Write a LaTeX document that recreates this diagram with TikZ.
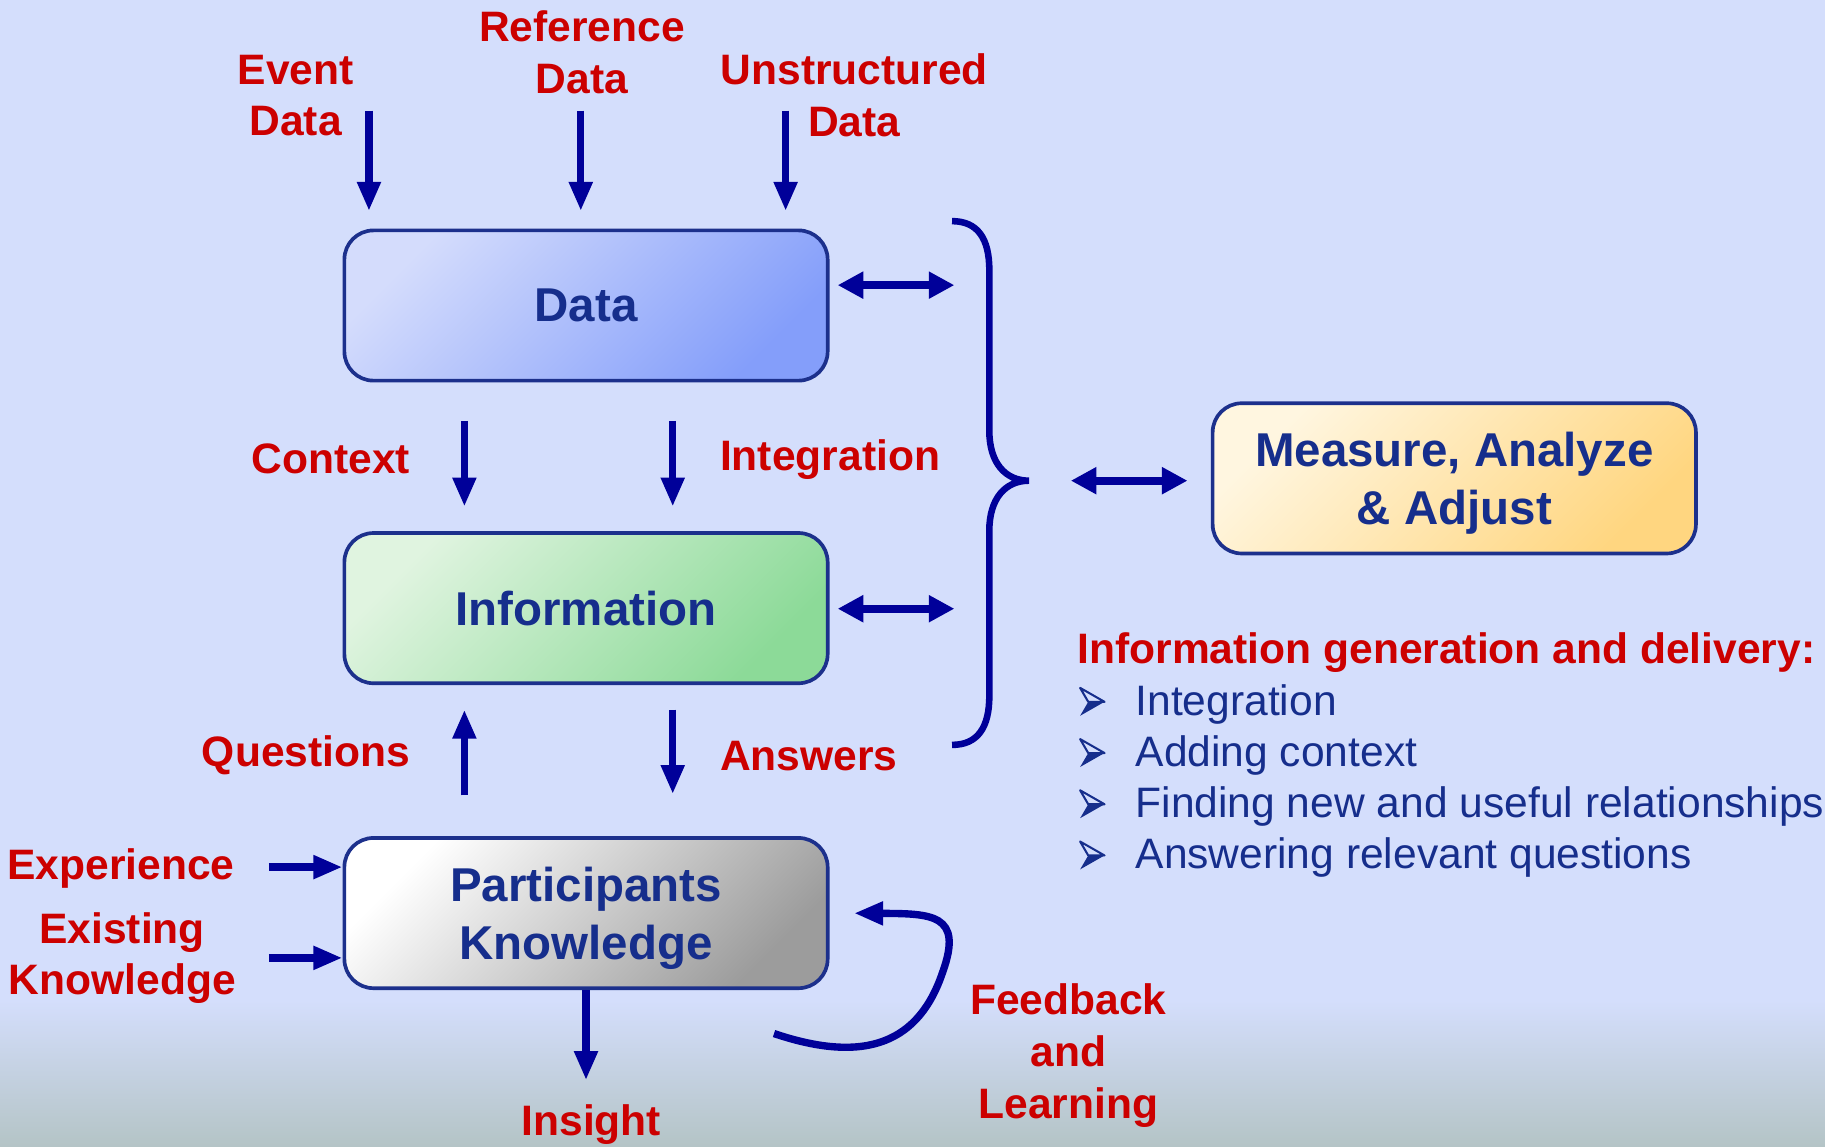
\documentclass[tikz,border=0pt]{standalone}
\usepackage{fontspec}
\setmainfont{Liberation Sans}
\usepackage{tikz}
\usetikzlibrary{arrows.meta}
\usetikzlibrary{positioning}
\usetikzlibrary{calc}
\definecolor{bgtop}{RGB}{212,222,252}
\definecolor{bgbot}{RGB}{180,196,198}
\definecolor{arrowblue}{RGB}{0,0,153}
\definecolor{labelred}{RGB}{204,0,0}
\definecolor{textblue}{RGB}{22,46,140}
\definecolor{boxline}{RGB}{28,48,140}
\definecolor{datatop}{RGB}{212,220,252}
\definecolor{databot}{RGB}{132,158,250}
\definecolor{infotop}{RGB}{224,244,224}
\definecolor{infobot}{RGB}{140,218,152}
\definecolor{knowtop}{RGB}{255,255,255}
\definecolor{knowbot}{RGB}{156,156,156}
\definecolor{meastop}{RGB}{255,246,224}
\definecolor{measbot}{RGB}{255,214,128}
\tikzset{basic box/.style={draw=boxline,
                           line width=0.9pt,
                           rounded corners=0.25cm,
                           minimum width=4.15cm,
                           minimum height=1.29cm,
                           align=center,
                           text depth=0pt,
                           text=textblue,
                           font=\bfseries\fontsize{11.6}{14.2}\selectfont}}
\tikzset{red label/.style={text=labelred,
                           inner sep=0pt,
                           align=center,
                           font=\bfseries\fontsize{10.4}{12.6}\selectfont}}
\tikzset{flow/.style={draw=arrowblue,
                      line width=1.8pt,
                      -{Triangle[length=0.25cm,width=0.19cm]}}}
\tikzset{two way/.style={draw=arrowblue,
                         line width=2pt,
                         {Triangle[length=0.22cm,width=0.22cm]}-{Triangle[length=0.22cm,width=0.22cm]}}}

\begin{document}
\begin{tikzpicture}
  [
    x=0.01cm,y=-0.01cm,
    data fill/.style={top color=datatop,bottom color=databot,shading angle=45},
    info fill/.style={top color=infotop,bottom color=infobot,shading angle=45},
    know fill/.style={top color=knowtop,bottom color=knowbot,shading angle=45},
    measure fill/.style={top color=meastop,bottom color=measbot,shading angle=45},
    list item/.style={text=textblue,inner sep=0pt,font=\fontsize{10.4}{12.6}\selectfont},
  ]
    \useasboundingbox (0,0) rectangle (1568,985);

    % background
    \fill [bgtop] (0,0) rectangle (1568,860);
    \shade [top color=bgtop,bottom color=bgbot] (0,859) rectangle (1568,985);

    % boxes
    \node [basic box,data fill] (data) at (503.5,262.5) {Data};
    \node [basic box,info fill] (info) at (503.5,522.5) {Information};
    \node [basic box,know fill] (pk) at (503.5,784.5) {Participants\\Knowledge};
    \node [basic box,measure fill] (ma) at (1249.5,411) {Measure, Analyze\\\& Adjust};

    % labels
    \node [red label] (evt) at (254,82) {Event\\Data};
    \node [red label] (ref) at (500,45) {Reference\\Data};
    \node [red label] (uns) at (734,82) {Unstructured\\Data};
    \node [red label,anchor=east] (ctx) at (353,394) {Context};
    \node [red label,anchor=west] (int) at (618,395) {Integration};
    \node [red label,anchor=east] (qst) at (353,649) {Questions};
    \node [red label,anchor=west] (ans) at (618,650) {Answers};
    \node [red label] (exp) at (104,746) {Experience};
    \node [red label] (exk) at (105,823) {Existing\\Knowledge};
    \node [red label] (ins) at (508,966) {Insight};
    \node [red label] (fbl) at (918,907) {Feedback\\and\\Learning};

    % list
    \node [red label,anchor=west] (head) at (925,561) {Information generation and delivery:};
    \foreach \i/\l in
      {
        1/Integration,
        2/Adding context,
        3/Finding new and useful relationships,
        4/Answering relevant questions
      }
    {
    \coordinate (b\i) at (938,559+44*\i);
    \draw [textblue,line width=0.5pt,line join=round]
      ($(b\i)+(-10,-12)$) -- ($(b\i)+(11,0)$) -- ($(b\i)+(-3,0)$) -- cycle;
    \fill [textblue] ($(b\i)+(-3,0)$) -- ($(b\i)+(11,0)$) -- ($(b\i)+(-10,12)$) -- cycle;
    \node [list item,anchor=west] (li\i) at (975,561+44*\i) {\l};
    }

    % incoming edges
    \foreach \n/\x in {evt/317,ref/499,uns/675}
    {
    \coordinate (\n in) at (\x,95);
    \draw [flow,shorten >=0.15cm] (\n in) -- (\n in |- data.north);
    }
    \coordinate (exp out) at (231,745);
    \coordinate (exk out) at (231,823);
    \draw [flow] (exp out) -- (exp out -| pk.west);
    \draw [flow] (exk out) -- (exk out -| pk.west);

    % edges between boxes
    \coordinate (lft) at (399,0);
    \coordinate (rgt) at (578,0);
    \draw [flow,shorten <=0.33cm,shorten >=0.21cm] (data.south -| lft) -- (info.north -| lft);
    \draw [flow,shorten <=0.33cm,shorten >=0.21cm] (data.south -| rgt) -- (info.north -| rgt);
    \draw [flow,shorten <=0.35cm,shorten >=0.21cm] (pk.north -| lft) -- (info.south -| lft);
    \draw [flow,shorten <=0.21cm,shorten >=0.36cm] (info.south -| rgt) -- (pk.north -| rgt);
    \draw [flow,shorten >=0.2cm] (pk.south) -- (pk.south |- ins.north);

    % brace
    \coordinate (tip) at (884,413);
    \draw [arrowblue,line width=1.6pt]
      (818,190) .. controls (840,190) and (850,205) .. (850,232) -- (850,370)
      .. controls (850,398) and (864,413) .. (tip)
      .. controls (864,413) and (850,428) .. (850,456) -- (850,598)
      .. controls (850,625) and (840,640) .. (818,640);

    % two way edges
    \coordinate (brace data) at (820,245);
    \coordinate (brace info) at (820,523);
    \draw [two way,shorten <=0.07cm] (data.east |- brace data) -- (brace data);
    \draw [two way,shorten <=0.07cm] (info.east |- brace info) -- (brace info);
    \draw [two way,shorten <=0.36cm,shorten >=0.2cm] (tip) -- (tip -| ma.west);

    % feedback loop
    \coordinate (fb start) at (665,888);
    \draw [flow,shorten >=0.21cm] (fb start) .. controls (745,915) and (790,895) .. (810,835)
      .. controls (828,785) and (800,785) .. (pk.east);

  \end{tikzpicture}
\end{document}
